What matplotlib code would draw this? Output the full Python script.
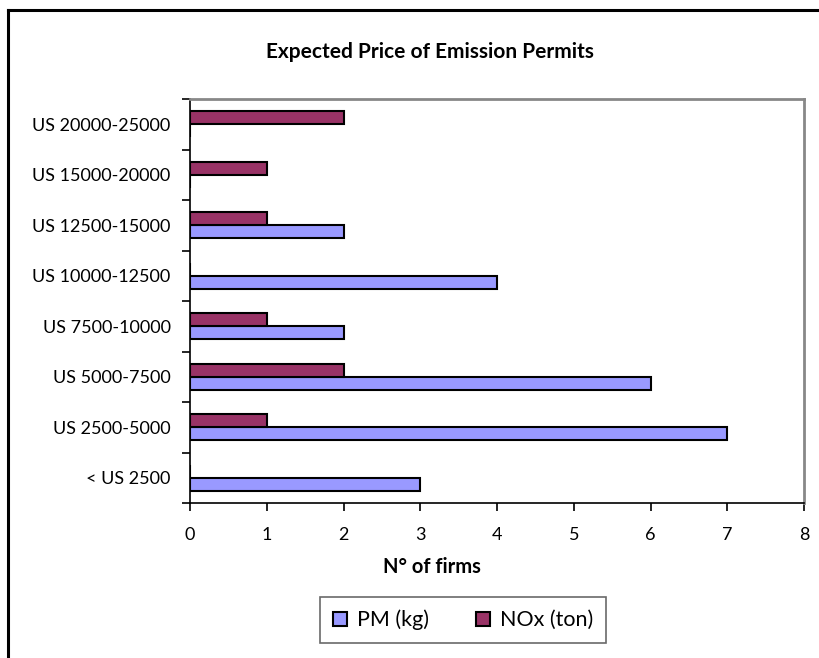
import matplotlib
matplotlib.use("Agg")
import matplotlib.pyplot as plt
from matplotlib.patches import Rectangle
from matplotlib.lines import Line2D
import numpy as np

categories = ["< US 2500", "US 2500-5000", "US 5000-7500", "US 7500-10000",
              "US 10000-12500", "US 12500-15000", "US 15000-20000", "US 20000-25000"]
pm_kg = [3, 7, 6, 2, 4, 2, 0, 0]
nox_ton = [0, 1, 2, 1, 0, 1, 1, 2]
series_names = ["PM (kg)", "NOx (ton)"]
title = "Expected Price of Emission Permits"
xlabel = "N° of firms"

PM_COLOR = "#9999FF"
NOX_COLOR = "#993366"
FONT = ["Lato", "DejaVu Sans"]

W, H = 819, 658
fig = plt.figure(figsize=(W / 100, H / 100), dpi=100)
plt.rcParams['font.family'] = FONT

# outer chart border (cropped at right and bottom)
fig.add_artist(Line2D([8 / W, 8 / W], [0, 1 - 10 / H], transform=fig.transFigure,
                      color="black", lw=2.2))
fig.add_artist(Line2D([8 / W, 1], [1 - 10 / H, 1 - 10 / H], transform=fig.transFigure,
                      color="black", lw=2.2))

left, right, top, bottom = 190, 804, 99, 503
ax = fig.add_axes([left / W, 1 - bottom / H, (right - left) / W, (bottom - top) / H])

y = np.arange(len(categories))
h = 0.257
ax.barh(y - h / 2, pm_kg, height=h, color=PM_COLOR, edgecolor="black", linewidth=1.5,
        label=series_names[0])
ax.barh(y + h / 2, nox_ton, height=h, color=NOX_COLOR, edgecolor="black", linewidth=1.5,
        label=series_names[1])

ax.set_xlim(0, 8)
ax.set_ylim(-0.5, len(categories) - 0.5)
ax.set_xticks(range(0, 9))
ax.set_yticks(y)
ax.set_yticklabels(categories)
# category separator ticks
ax.set_yticks(np.arange(-0.5, len(categories), 1), minor=True)
ax.tick_params(axis="y", which="major", length=0, pad=14, labelsize=13)
ax.tick_params(axis="y", which="minor", length=6, width=1.2, color="black")
ax.tick_params(axis="x", which="major", length=6, width=1.2, color="black", labelsize=13, pad=11)
for s in ["top", "right"]:
    ax.spines[s].set_color("#888888")
    ax.spines[s].set_linewidth(2)
for s in ["left", "bottom"]:
    ax.spines[s].set_color("black")
    ax.spines[s].set_linewidth(1.2)

fig.text(430 / W, 1 - 52 / H, title, ha="center", va="center", fontsize=15,
         fontweight="bold")
fig.text(432 / W, 1 - 567 / H, xlabel, ha="center", va="center", fontsize=14.5,
         fontweight="bold")

handles = [Rectangle((0, 0), 1, 1, facecolor=PM_COLOR, edgecolor="black", lw=1.5),
           Rectangle((0, 0), 1, 1, facecolor=NOX_COLOR, edgecolor="black", lw=1.5)]
leg = fig.legend(handles, series_names, loc="center", bbox_to_anchor=(463 / W, 1 - 620 / H),
                 ncol=2, fontsize=15.5, frameon=True, fancybox=False, edgecolor="#444444",
                 handlelength=0.65, handleheight=0.65, columnspacing=2.2, handletextpad=0.45,
                 borderpad=0.6)
leg.get_frame().set_linewidth(1.2)

fig.savefig("out.png", dpi=100)
